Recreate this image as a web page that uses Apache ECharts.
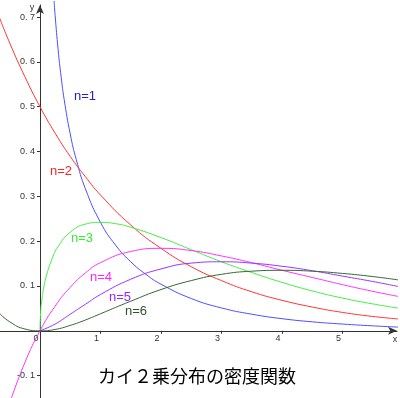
<!DOCTYPE html>
<html>
<head>
<meta charset="utf-8">
<script src="https://cdn.jsdelivr.net/npm/echarts@6/dist/echarts.min.js"></script>
<style>
  html, body { margin: 0; padding: 0; background: #fff; }
  #main { width: 400px; height: 398px; }
</style>
</head>
<body>
<div id="main"></div>
<script>
// values, [x, y]
var chi1 = [[0.233, 0.736], [0.25, 0.704], [0.3, 0.627], [0.35, 0.566], [0.4, 0.516], [0.5, 0.439],
    [0.6, 0.382], [0.75, 0.317], [1, 0.242], [1.25, 0.191], [1.5, 0.154], [1.75, 0.126], [2, 0.104],
    [2.5, 0.072], [3, 0.051], [3.5, 0.037], [4, 0.027], [4.5, 0.020], [5, 0.015], [5.5, 0.011], [5.95, 0.008]];
var chi2 = [[-0.67, 0.699], [-0.5, 0.642], [-0.25, 0.567], [0, 0.5], [0.25, 0.441], [0.5, 0.389],
    [0.75, 0.344], [1, 0.303], [1.5, 0.236], [2, 0.184], [2.5, 0.143], [3, 0.112], [3.5, 0.087],
    [4, 0.068], [4.5, 0.053], [5, 0.041], [5.5, 0.032], [5.95, 0.026]];
var chi3 = [[0, 0], [0.01, 0.040], [0.03, 0.068], [0.06, 0.095], [0.1, 0.120], [0.2, 0.161], [0.3, 0.188],
    [0.5, 0.220], [0.75, 0.238], [1, 0.242], [1.25, 0.239], [1.5, 0.231], [2, 0.208], [2.5, 0.181],
    [3, 0.154], [3.5, 0.130], [4, 0.108], [4.5, 0.089], [5, 0.073], [5.5, 0.060], [5.95, 0.050]];
var chi4 = [[-0.5, -0.161], [-0.25, -0.071], [0, 0], [0.25, 0.055], [0.5, 0.097], [0.75, 0.129],
    [1, 0.152], [1.5, 0.177], [2, 0.184], [2.5, 0.179], [3, 0.167], [3.5, 0.152], [4, 0.135],
    [4.5, 0.119], [5, 0.103], [5.5, 0.088], [5.95, 0.076]];
var chi5 = [[0, 0], [0.25, 0.015], [0.5, 0.037], [0.75, 0.059], [1, 0.081], [1.5, 0.115], [2, 0.138],
    [2.5, 0.151], [3, 0.154], [3.5, 0.151], [4, 0.144], [4.5, 0.134], [5, 0.122], [5.5, 0.110], [5.95, 0.098]];
var chi6 = [[-0.67, 0.039], [-0.5, 0.020], [-0.25, 0.004], [0, 0], [0.25, 0.003], [0.5, 0.012],
    [0.75, 0.024], [1, 0.038], [1.5, 0.066], [2, 0.092], [2.5, 0.112], [3, 0.126], [3.5, 0.133],
    [4, 0.135], [4.5, 0.133], [5, 0.128], [5.5, 0.121], [5.95, 0.113]];

var names = ['n=1', 'n=2', 'n=3', 'n=4', 'n=5', 'n=6'];
var xTicks = [1, 2, 3, 4, 5];
var xLabels = [0, 1, 2, 3, 4, 5];
var yTicks = [-0.1, 0.1, 0.2, 0.3, 0.4, 0.5, 0.6, 0.7];
var title = 'カイ２乗分布の密度関数';

var lineColors = ['#4d4dff', '#ff3333', '#44ee44', '#ff33ff', '#9933ff', '#336633'];
var textColors = ['#2222cc', '#ff2222', '#33ee33', '#ff22ff', '#9922ff', '#2a552a'];
// label centres in pixels
var labelPos = [[85, 96], [61, 171], [82, 238], [101, 277], [120, 297], [136, 311]];

var W = 400, H = 398;
var gridL = 0, gridR = 3, gridT = 5, gridB = 0;
var xMin = -0.661, xMax = 5.901, yMin = -0.15, yMax = 0.727;
// put the axes through the origin by shifting them inward
var yAxisShift = (W - gridL - gridR) * (0 - xMin) / (xMax - xMin);
var xAxisShift = (H - gridT - gridB) * (0 - yMin) / (yMax - yMin);

var myChart = echarts.init(document.getElementById('main'));

var allData = [chi1, chi2, chi3, chi4, chi5, chi6];
var series = allData.map(function (d, i) {
    return {
        name: names[i],
        type: 'line',
        data: d,
        smooth: 0.5,
        showSymbol: false,
        clip: false,
        lineStyle: { color: lineColors[i], width: 1 },
        z: 3
    };
});

var graphics = names.map(function (n, i) {
    return {
        type: 'text',
        x: labelPos[i][0],
        y: labelPos[i][1],
        style: {
            text: n,
            fill: textColors[i],
            font: '13px "Liberation Sans", Arial, sans-serif',
            align: 'center',
            verticalAlign: 'middle'
        }
    };
});
graphics.push({
    type: 'text', x: 197, y: 376,
    style: { text: title, fill: '#000', font: '18px "Noto Sans CJK JP"', align: 'center', verticalAlign: 'middle' }
});
graphics.push({
    type: 'text', x: 32, y: 8,
    style: { text: 'y', fill: '#333', font: '9px "Liberation Sans"', align: 'center', verticalAlign: 'middle' }
});
graphics.push({
    type: 'text', x: 395, y: 340,
    style: { text: 'x', fill: '#333', font: '9px "Liberation Sans"', align: 'center', verticalAlign: 'middle' }
});

option = {
    animation: false,
    grid: { left: gridL, right: gridR, top: gridT, bottom: gridB, containLabel: false, outerBoundsMode: 'none' },
    xAxis: {
        type: 'value',
        min: xMin,
        max: xMax,
        offset: -xAxisShift,
        splitLine: { show: false },
        axisLine: {
            onZero: false,
            symbol: ['none', 'arrow'],
            symbolSize: [6, 9],
            lineStyle: { color: '#333', width: 1 }
        },
        axisTick: { customValues: xTicks, length: 3, lineStyle: { color: '#333' } },
        axisLabel: {
            customValues: xLabels,
            color: '#333',
            fontSize: 9,
            fontFamily: 'Liberation Sans',
            margin: 3,
            padding: [0, 8, 0, 0]
        }
    },
    yAxis: {
        type: 'value',
        min: yMin,
        max: yMax,
        offset: -yAxisShift,
        splitLine: { show: false },
        axisLine: {
            onZero: false,
            symbol: ['none', 'arrow'],
            symbolSize: [6, 9],
            lineStyle: { color: '#333', width: 1 }
        },
        axisTick: { customValues: yTicks, length: 3, lineStyle: { color: '#333' } },
        axisLabel: {
            customValues: yTicks,
            color: '#333',
            fontSize: 9,
            fontFamily: 'Liberation Sans',
            margin: 5,
            padding: [14, 0, 0, 0],
            formatter: function (v) { return v.toFixed(1).replace('.', '. '); }
        }
    },
    graphic: graphics,
    series: series
};
myChart.setOption(option);
</script>
</body>
</html>
